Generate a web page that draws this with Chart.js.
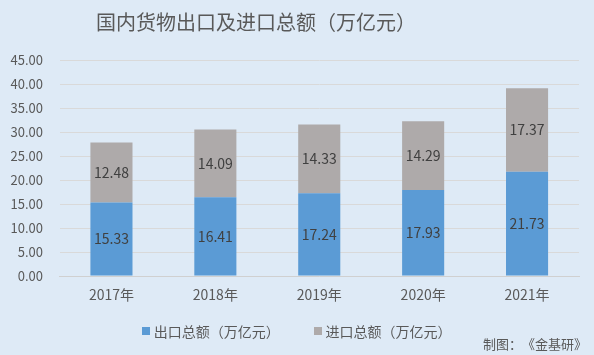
<!DOCTYPE html>
<html lang="zh-CN"><head><meta charset="utf-8">
<script src="https://cdn.jsdelivr.net/npm/chart.js@4/dist/chart.umd.min.js"></script>
<style>
html,body{margin:0;padding:0;background:#deeaf6;}
#wrap{position:relative;width:594px;height:355px;background:#deeaf6;overflow:hidden;}
#title{position:absolute;left:0;width:512px;top:8px;text-align:center;font:20px "Noto Sans CJK SC",sans-serif;color:#595959;line-height:28px;white-space:nowrap;text-spacing-trim:space-all;}
#src{position:absolute;right:7px;top:335px;font:13px "Noto Sans CJK SC",sans-serif;color:#595959;line-height:18px;white-space:nowrap;text-spacing-trim:space-all;}
.lg{position:absolute;top:321px;height:18px;line-height:18px;font:14px "Noto Sans CJK SC",sans-serif;color:#595959;white-space:nowrap;text-spacing-trim:space-all;}
.lg i{position:absolute;left:0;top:6px;width:8px;height:8px;}
.lg span{position:absolute;left:12px;top:0;}
canvas{position:absolute;left:0;top:0;}
</style></head>
<body><div id="wrap"><canvas id="c" width="594" height="355"></canvas><div id="title"></div><div id="src">制图：《金基研》</div></div>
<script>
const categories = ['2017年','2018年','2019年','2020年','2021年'];
const exportValues = [15.33, 16.41, 17.24, 17.93, 21.73];
const importValues = [12.48, 14.09, 14.33, 14.29, 17.37];
const seriesNames = ['出口总额（万亿元）','进口总额（万亿元）'];
const titleText = '国内货物出口及进口总额（万亿元）';
document.getElementById('title').textContent = titleText;

const font = '"Noto Sans CJK SC", sans-serif';
const labelPlugin = {
  id:'labels',
  afterDatasetsDraw(chart){
    const ctx = chart.ctx;
    ctx.save();
    ctx.font = '14px ' + font;
    ctx.fillStyle = '#404040';
    ctx.textAlign = 'center';
    ctx.textBaseline = 'middle';
    chart.data.datasets.forEach((ds,i)=>{
      chart.getDatasetMeta(i).data.forEach((el,j)=>{
        const y = (el.y + el.base)/2;
        ctx.fillText(ds.data[j].toFixed(2), el.x, y);
      });
    });
    ctx.restore();
  }
};
const chart = new Chart(document.getElementById('c'), {
  type:'bar',
  data:{
    labels:categories,
    datasets:[
      {label:seriesNames[0], data:exportValues, backgroundColor:'#5b9bd5', categoryPercentage:1, barPercentage:0.405},
      {label:seriesNames[1], data:importValues, backgroundColor:'#aeaaaa', categoryPercentage:1, barPercentage:0.405}
    ]
  },
  options:{
    responsive:false, animation:false,
    layout:{padding:{left:7.5,right:15,top:60,bottom:49}},
    plugins:{
      title:{display:false},
      legend:{display:false},
      tooltip:{enabled:false}
    },
    scales:{
      x:{stacked:true,
        grid:{drawOnChartArea:false,drawTicks:false},
        border:{color:'#d0d0d0'},
        ticks:{color:'#595959',font:{family:font,size:14},padding:10},
        afterFit(s){ s.height = 30; }},
      y:{stacked:true,min:0,max:45,
        grid:{color:'#d9d9d9',drawTicks:false},
        border:{display:false},
        ticks:{stepSize:5,color:'#595959',font:{family:font,size:13},padding:16.5,callback:v=>v.toFixed(2)},
        afterFit(s){ s.width = 52; }}
    }
  },
  plugins:[labelPlugin]
});
// legend built from the chart's datasets
const legendX = [141.7, 313.5];
chart.data.datasets.forEach((ds,i)=>{
  const d = document.createElement('div');
  d.className = 'lg';
  d.style.left = legendX[i] + 'px';
  const b = document.createElement('i'); b.style.background = ds.backgroundColor;
  const s = document.createElement('span'); s.textContent = ds.label;
  d.appendChild(b); d.appendChild(s);
  document.getElementById('wrap').appendChild(d);
});
</script></body></html>
